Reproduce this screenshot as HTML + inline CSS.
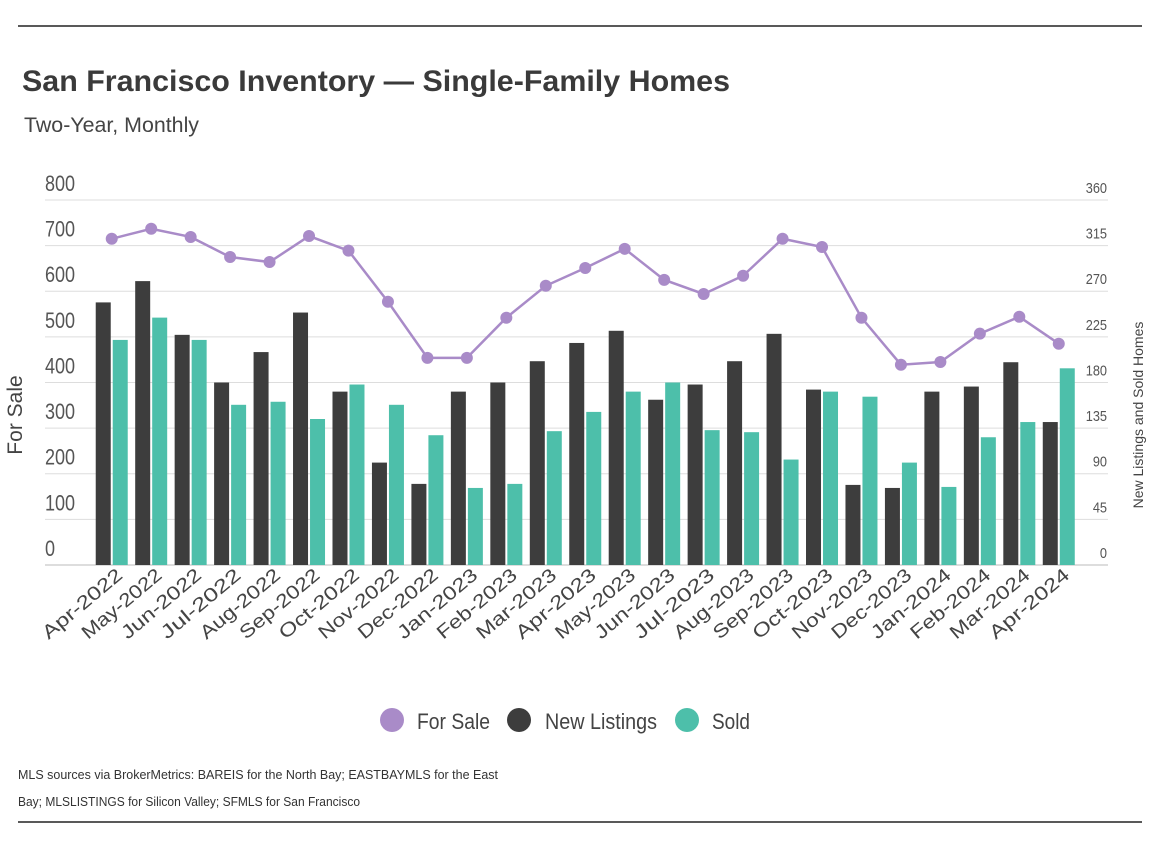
<!DOCTYPE html>
<html><head><meta charset="utf-8"><style>
body{margin:0;background:#fff;width:1156px;height:842px;overflow:hidden;font-family:"Liberation Sans Narrow","Liberation Sans",sans-serif;}
svg text{font-family:"Liberation Sans Narrow","Liberation Sans",sans-serif;}
</style></head><body>
<svg id="chart" width="1156" height="842" xmlns="http://www.w3.org/2000/svg">
<line x1="18" y1="26" x2="1142" y2="26" stroke="#222" stroke-width="1.5"/>
<line x1="18" y1="822" x2="1142" y2="822" stroke="#222" stroke-width="1.5"/>
<text x="22" y="91" font-size="30" font-weight="bold" fill="#3a3a3a" textLength="708" lengthAdjust="spacingAndGlyphs">San Francisco Inventory — Single-Family Homes</text>
<text x="24" y="132" font-size="21" fill="#444" textLength="175" lengthAdjust="spacingAndGlyphs">Two-Year, Monthly</text>
<text transform="translate(22,415) rotate(-90)" text-anchor="middle" font-size="21" fill="#444">For Sale</text>
<text transform="translate(1143,415) rotate(-90)" text-anchor="middle" font-size="14" fill="#444">New Listings and Sold Homes</text>
<g id="grid"></g><g id="bars"></g><g id="line"></g><g id="xlabels"></g>
<g>
<circle cx="392" cy="720" r="12" fill="#a98bc8"/>
<text x="417" y="729" font-size="22" fill="#444" textLength="73" lengthAdjust="spacingAndGlyphs">For Sale</text>
<circle cx="519" cy="720" r="12" fill="#3d3d3d"/>
<text x="545" y="729" font-size="22" fill="#444" textLength="112" lengthAdjust="spacingAndGlyphs">New Listings</text>
<circle cx="687" cy="720" r="12" fill="#4dbfaa"/>
<text x="712" y="729" font-size="22" fill="#444" textLength="38" lengthAdjust="spacingAndGlyphs">Sold</text>
</g>
<text x="18" y="779" font-size="13" fill="#333" textLength="480" lengthAdjust="spacingAndGlyphs">MLS sources via BrokerMetrics: BAREIS for the North Bay; EASTBAYMLS for the East</text>
<text x="18" y="806" font-size="13" fill="#333" textLength="342" lengthAdjust="spacingAndGlyphs">Bay; MLSLISTINGS for Silicon Valley; SFMLS for San Francisco</text>
</svg>
<script>
const months=["Apr-2022","May-2022","Jun-2022","Jul-2022","Aug-2022","Sep-2022","Oct-2022","Nov-2022","Dec-2022","Jan-2023","Feb-2023","Mar-2023","Apr-2023","May-2023","Jun-2023","Jul-2023","Aug-2023","Sep-2023","Oct-2023","Nov-2023","Dec-2023","Jan-2024","Feb-2024","Mar-2024","Apr-2024"];
const forSale=[715,737,719,675,664,721,689,577,454,454,542,612,651,693,625,594,634,715,697,542,439,445,507,544,485];
const newListings=[259,280,227,180,210,249,171,101,80,171,180,201,219,231,163,178,201,228,173,79,76,171,176,200,141];
const sold=[222,244,222,158,161,144,178,158,128,76,80,132,151,171,180,133,131,104,171,166,101,77,126,141,194];
const leftTicks=["0","100","200","300","400","500","600","700","800"];
const rightTicks=["0","45","90","135","180","225","270","315","360"];
const NS="http://www.w3.org/2000/svg";
const y0=565,yTop=200,x0=92,gw=39.46,bw=15;
const yL=v=>y0-(v/800)*(y0-yTop);
const yR=v=>y0-(v/360)*(y0-yTop);
const xc=i=>x0+gw*i+gw/2;
function mk(tag,attrs,parent){const e=document.createElementNS(NS,tag);for(const k in attrs)e.setAttribute(k,attrs[k]);document.getElementById(parent).appendChild(e);return e;}
leftTicks.forEach((t,i)=>{
  const y=yL(i*100);
  const l=mk('line',{x1:45,x2:1108,y1:y,y2:y,stroke:i==0?'#bbb':'#ddd','stroke-width':1},'grid');
  
  
  const tx=mk('text',{x:45,y:y-9,'font-size':22,fill:'#555',transform:`translate(45,0) scale(0.82,1) translate(-45,0)`},'grid');tx.textContent=t;
  
  
  const tr=mk('text',{x:1107,y:y-7,'font-size':15,fill:'#555','text-anchor':'end',transform:`translate(1107,0) scale(0.85,1) translate(-1107,0)`},'grid');tr.textContent=rightTicks[i];
  
  
});
months.forEach((m,i)=>{
  const c=xc(i);
  const b1=mk('rect',{x:c-bw-1,y:yR(newListings[i]),width:bw,height:y0-yR(newListings[i]),fill:'#3d3d3d'},'bars');
  
  
  const b2=mk('rect',{x:c+1,y:yR(sold[i]),width:bw,height:y0-yR(sold[i]),fill:'#4dbfaa'},'bars');
  
  
  const t=mk('text',{transform:`translate(${c+12},${y0+12}) rotate(-40)`,'text-anchor':'end','font-size':19,fill:'#444',textLength:98,lengthAdjust:'spacingAndGlyphs'},'xlabels');t.textContent=m;
  
  
});
const pl=mk('polyline',{points:forSale.map((v,i)=>xc(i)+','+yL(v)).join(' '),fill:'none',stroke:'#a98bc8','stroke-width':2.5},'line');


forSale.forEach((v,i)=>{
  const p=mk('circle',{cx:xc(i),cy:yL(v),r:6,fill:'#a98bc8'},'line');
  
  
});
</script>
</body></html>
